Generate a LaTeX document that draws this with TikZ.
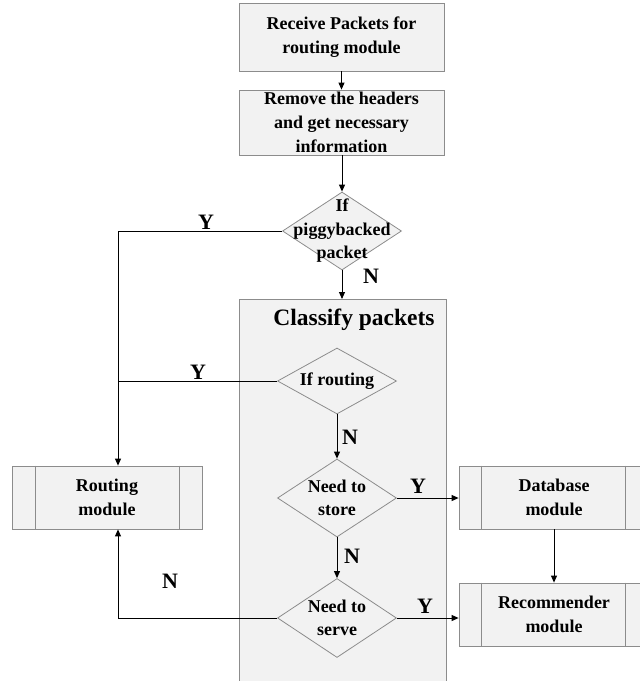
\documentclass[tikz,border=0pt]{standalone}
\usepackage{fontspec}
\setmainfont{Liberation Serif}
\usetikzlibrary{arrows.meta,shapes.geometric}
\definecolor{boxfill}{HTML}{F2F2F2}
\definecolor{boxline}{HTML}{8C8C8C}
\begin{document}
\begin{tikzpicture}[x=1pt,y=-1pt,
  every node/.style={font=\bfseries\fontsize{18}{24}\selectfont, align=center, inner sep=0pt},
  stepbox/.style={draw=boxline, fill=boxfill, line width=0.8pt, minimum width=205pt},
  modbox/.style={draw=boxline, fill=boxfill, line width=0.8pt, minimum height=63pt},
  decision/.style={draw=boxline, fill=boxfill, line width=0.8pt, shape=diamond, minimum width=119pt, minimum height=78pt},
  dtext/.style={font=\bfseries\fontsize{18}{22.5}\selectfont},
  yn/.style={font=\bfseries\fontsize{22}{24}\selectfont},
  flow/.style={draw=black, line width=0.9pt, -{Triangle[length=7pt,width=6pt]}},
  wire/.style={draw=black, line width=0.9pt}]
\useasboundingbox (0,0) rectangle (640,681);

% classification area
\node[draw=boxline, fill=boxfill, line width=0.8pt, minimum width=207pt, minimum height=382pt, anchor=north west] (classify) at (239,299) {};
\node[font=\bfseries\fontsize{23.5}{26}\selectfont] (ctitle) at (354,320) {Classify packets};

% processing steps
\node[stepbox, minimum height=68pt] (recv) at (341.5,37) {Receive Packets for\\routing module};
\node[stepbox, minimum height=65pt] (strip) at (341.5,122.5) {Remove the headers\\and get necessary\\information};

% decisions
\node[decision] (piggy) at (342,231) {};
\node[dtext, text width=120pt, font=\bfseries\fontsize{18}{23.5}\selectfont] at (piggy) {If\\piggybacked\\packet};
\node[decision, minimum height=66pt] (isroute) at (337,381) {};
\node[dtext] at (isroute) {If routing};
\node[decision] (store) at (337,498) {};
\node[dtext] at (store) {Need to\\store};
\node[decision, minimum height=79pt] (serve) at (337,618) {};
\node[dtext] at (serve) {Need to\\serve};

% modules
\node[modbox, minimum width=190pt] (routing) at (107,497.5) {Routing\\module};
\draw[boxline, line width=0.8pt] ([xshift=24pt]routing.north west) -- ([xshift=24pt]routing.south west)
      ([xshift=-23pt]routing.north east) -- ([xshift=-23pt]routing.south east);
\node[modbox, minimum width=190pt] (database) at (554,497.5) {Database\\module};
\draw[boxline, line width=0.8pt] ([xshift=23pt]database.north west) -- ([xshift=23pt]database.south west)
      ([xshift=167pt]database.north west) -- ([xshift=167pt]database.south west);
\node[modbox, minimum width=190pt] (recomm) at (554,614.5) {Recommender\\module};
\draw[boxline, line width=0.8pt] ([xshift=23pt]recomm.north west) -- ([xshift=23pt]recomm.south west)
      ([xshift=167pt]recomm.north west) -- ([xshift=167pt]recomm.south west);

% junction points of the left bus
\coordinate (busTop) at (118,231);
\coordinate (busMid) at (118,381);
\coordinate (busLow) at (118,618);

% connectors
\draw[flow] (recv.south) -- (strip.north);
\draw[flow] (strip.south -| piggy.north) -- (piggy.north);
\draw[flow] (piggy.south) -- (piggy.south |- classify.north);
\draw[wire] (piggy.west) -- (busTop) -- (busMid);
\draw[flow] (isroute.west) -- (busMid) -- (busMid |- routing.north);
\draw[flow] (isroute.south) -- (store.north);
\draw[flow] (store.east) -- (store.east -| database.west);
\draw[flow] (store.south) -- (serve.north);
\draw[flow] (serve.east) -- (serve.east -| recomm.west);
\draw[flow] (serve.west) -- (busLow) -- (busLow |- routing.south);
\draw[flow] (database.south) -- (recomm.north);

% branch labels
\node[yn] at (206,222) {Y};
\node[yn] at (371,276) {N};
\node[yn] at (198,372) {Y};
\node[yn] at (350,437) {N};
\node[yn] at (418,486) {Y};
\node[yn] at (352,556) {N};
\node[yn] at (170,581) {N};
\node[yn] at (425,606) {Y};
\end{tikzpicture}
\end{document}
